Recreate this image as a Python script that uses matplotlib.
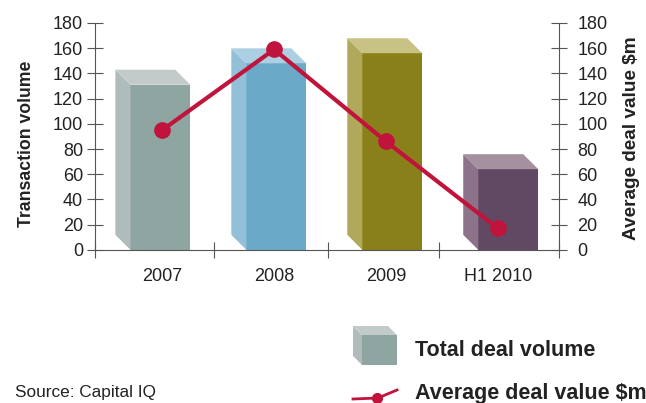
import matplotlib
matplotlib.use('Agg')
import matplotlib.pyplot as plt
from matplotlib.patches import Polygon
from matplotlib.lines import Line2D

plt.rcParams['font.family'] = ['Liberation Sans', 'DejaVu Sans']

# data
categories = ['2007', '2008', '2009', 'H1 2010']
deal_volume = [131, 148, 156, 64]
avg_deal_value = [95, 159, 86, 17]

front_colors = ['#8fa5a2', '#6aaac8', '#8a8019', '#624963']
side_colors = ['#b0bcbb', '#93c0d8', '#b0a85a', '#8c7389']
top_colors = ['#c3cbca', '#acd0e2', '#c8c284', '#a4909f']
line_color = '#c0143c'
axis_color = '#555555'
text_color = '#222222'

W, H = 646, 403
def fx(px):
    return px / W
def fy(py):
    return 1 - py / H

fig = plt.figure(figsize=(6.46, 4.03), dpi=100)
ax = fig.add_axes([0.147, 0.380, 0.718, 0.563])

# 3d depth of the bars in data units
dx = 0.13
dy = 11.9
width = 0.517
x = list(range(len(categories)))
front_left = [i - 0.194 for i in x]
# label / marker positions sit a touch right of the bar centres
label_x = [0.08 + i * 0.965 for i in x]

ax.bar(front_left, deal_volume, width=width, align='edge', color=front_colors,
       zorder=2)
for i, v in enumerate(deal_volume):
    l = front_left[i]
    r = l + width
    side = Polygon([(l, 0), (l, v), (l - dx, v + dy), (l - dx, dy)],
                   closed=True, facecolor=side_colors[i], edgecolor='none', zorder=2)
    top = Polygon([(l, v), (r, v), (r - dx, v + dy), (l - dx, v + dy)],
                  closed=True, facecolor=top_colors[i], edgecolor='none', zorder=2)
    ax.add_patch(side)
    ax.add_patch(top)

ax.set_xlim(-0.5, 3.5)
ax.set_ylim(0, 180)
ax.set_yticks(range(0, 181, 20))
ax.set_xticks([-0.5, 0.53, 1.51, 2.47, 3.5])
ax.set_xticklabels([])
for i, c in enumerate(categories):
    ax.text(label_x[i], -21, c, ha='center', va='center', fontsize=13, color=text_color)

for s in ['top', 'right']:
    ax.spines[s].set_visible(False)
for s in ['left', 'bottom']:
    ax.spines[s].set_color(axis_color)
ax.tick_params(axis='both', direction='inout', length=11, color=axis_color,
               labelsize=13, labelcolor=text_color)
ax.tick_params(axis='y', pad=3)

ax2 = ax.twinx()
ax2.set_ylim(0, 180)
ax2.set_yticks(range(0, 181, 20))
for s in ['top', 'left', 'bottom']:
    ax2.spines[s].set_visible(False)
ax2.spines['right'].set_color(axis_color)
ax2.tick_params(axis='y', direction='inout', length=11, color=axis_color,
                labelsize=13, labelcolor=text_color, pad=8)

ax2.plot(label_x, avg_deal_value, color=line_color, lw=3,
         marker='o', markersize=11, zorder=5)

fig.text(fx(27), fy(144), 'Transaction volume', rotation=90, fontsize=12.7,
         fontweight='bold', color=text_color, ha='center', va='center')
fig.text(fx(632), fy(138), 'Average deal value $m', rotation=90, fontsize=13.7,
         fontweight='bold', color=text_color, ha='center', va='center')

# legend drawn by hand
cube_l, cube_r, cube_t, cube_b, d = 362, 397, 335, 365, 9
fig.patches.append(Polygon([(fx(cube_l), fy(cube_b)), (fx(cube_r), fy(cube_b)),
                            (fx(cube_r), fy(cube_t)), (fx(cube_l), fy(cube_t))],
                           closed=True, transform=fig.transFigure,
                           facecolor=front_colors[0], edgecolor='none'))
fig.patches.append(Polygon([(fx(cube_l), fy(cube_b)), (fx(cube_l), fy(cube_t)),
                            (fx(cube_l - d), fy(cube_t - d)), (fx(cube_l - d), fy(cube_b - d))],
                           closed=True, transform=fig.transFigure,
                           facecolor=side_colors[0], edgecolor='none'))
fig.patches.append(Polygon([(fx(cube_l), fy(cube_t)), (fx(cube_r), fy(cube_t)),
                            (fx(cube_r - d), fy(cube_t - d)), (fx(cube_l - d), fy(cube_t - d))],
                           closed=True, transform=fig.transFigure,
                           facecolor=top_colors[0], edgecolor='none'))
fig.text(fx(415), fy(351), 'Total deal volume', fontsize=15.5, fontweight='bold',
         color=text_color, va='center')

fig.lines.append(Line2D([fx(353), fx(378), fx(397)], [fy(399), fy(398), fy(390)],
                        transform=fig.transFigure, color=line_color, lw=2))
fig.lines.append(Line2D([fx(377)], [fy(398)], transform=fig.transFigure,
                        color=line_color, marker='o', markersize=7))
fig.text(fx(415), fy(393), 'Average deal value $m', fontsize=15.5, fontweight='bold',
         color=text_color, va='center')

fig.text(fx(15), fy(393), 'Source: Capital IQ', fontsize=12.4, color=text_color,
         va='center')

fig.savefig('out.png', dpi=100)
